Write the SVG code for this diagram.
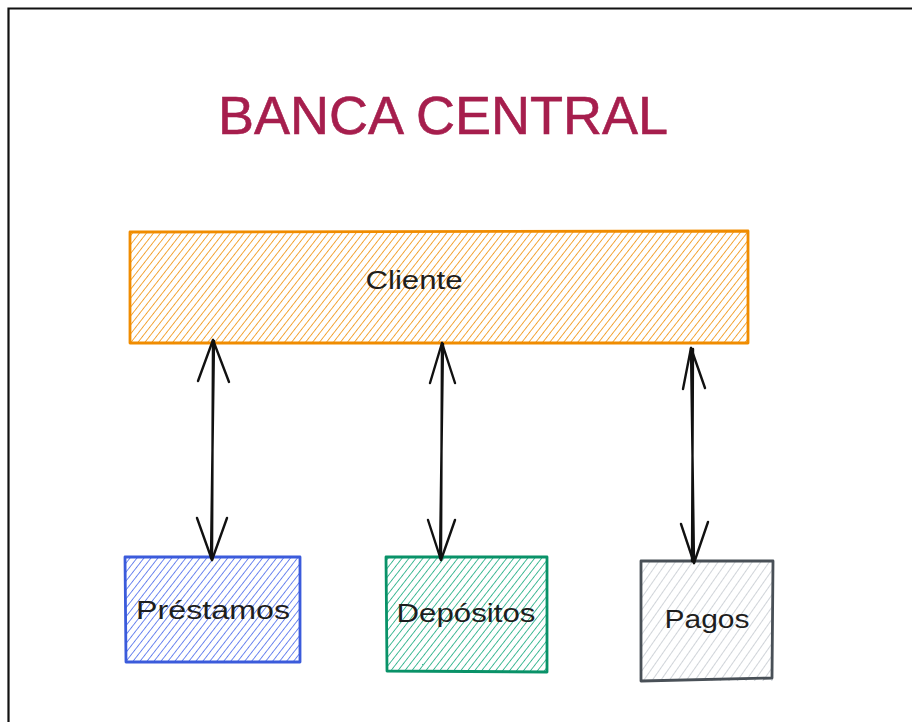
<svg xmlns="http://www.w3.org/2000/svg" width="912" height="722" viewBox="0 0 912 722">
  <defs>
    <!-- diagonal hachure fills -->
    <pattern id="hatch-orange" width="5.5" height="5.5" patternUnits="userSpaceOnUse" patternTransform="rotate(38)">
      <line x1="0" y1="0" x2="0" y2="5.5" stroke="#f08c00" stroke-width="1.5"/>
    </pattern>
    <pattern id="hatch-blue" width="5.5" height="5.5" patternUnits="userSpaceOnUse" patternTransform="rotate(38)">
      <line x1="0" y1="0" x2="0" y2="5.5" stroke="#4263eb" stroke-width="1.5"/>
    </pattern>
    <pattern id="hatch-green" width="5.5" height="5.5" patternUnits="userSpaceOnUse" patternTransform="rotate(38)">
      <line x1="0" y1="0" x2="0" y2="5.5" stroke="#0ca678" stroke-width="1.5"/>
    </pattern>
    <pattern id="hatch-gray" width="7" height="7" patternUnits="userSpaceOnUse" patternTransform="rotate(35)">
      <line x1="0" y1="0" x2="0" y2="7" stroke="#bcc2c8" stroke-width="1.4"/>
    </pattern>
  </defs>
  <style>
    .label { font-family: "Liberation Sans", "DejaVu Sans", sans-serif; font-size: 25px; fill: #1e1e1e; text-anchor: middle; }
    .title { font-family: "Liberation Sans", "DejaVu Sans", sans-serif; font-size: 54px; fill: #a61e4d; text-anchor: middle; stroke: #a61e4d; stroke-width: 0.6; }
    .edge { fill: none; stroke: #111111; stroke-width: 2.4; stroke-linecap: round; stroke-linejoin: round; }
    .box { stroke-width: 2.8; stroke-linejoin: round; }
  </style>

  <rect width="912" height="722" fill="#ffffff"/>

  <!-- frame -->
  <path d="M8.5,722 V8.5 H912" fill="none" stroke="#111111" stroke-width="2.2"/>

  <!-- title -->
  <text class="title" x="443" y="134" textLength="450" lengthAdjust="spacingAndGlyphs">BANCA CENTRAL</text>

  <g id="cliente">
    <rect x="130" y="232" width="618" height="111" fill="url(#hatch-orange)"/>
    <path class="box" d="M130,232 L748,231 L748,343 L130,343 Z" fill="none" stroke="#f08c00"/>
    <text class="label" x="414" y="289" textLength="97" lengthAdjust="spacingAndGlyphs">Cliente</text>
  </g>

  <g id="prestamos">
    <rect x="125" y="557" width="175" height="105" fill="url(#hatch-blue)"/>
    <path class="box" d="M125,557 L300,557 L300,662 L126,662 Z" fill="none" stroke="#3b5bdb"/>
    <text class="label" x="213" y="619" textLength="154" lengthAdjust="spacingAndGlyphs">Préstamos</text>
  </g>

  <g id="depositos">
    <rect x="386" y="557" width="161" height="115" fill="url(#hatch-green)"/>
    <path class="box" d="M386,557 L547,557 L547,672 L387,671 Z" fill="none" stroke="#099268"/>
    <text class="label" x="466" y="622" textLength="139" lengthAdjust="spacingAndGlyphs">Depósitos</text>
  </g>

  <g id="pagos">
    <rect x="641" y="561" width="132" height="120" fill="url(#hatch-gray)"/>
    <path class="box" d="M641,561 L773,561 L772,678 L641,681 Z" fill="none" stroke="#495057"/>
    <text class="label" x="707" y="628" textLength="85" lengthAdjust="spacingAndGlyphs">Pagos</text>
  </g>

  <g id="connectors">
    <!-- Cliente <-> Préstamos -->
    <path class="edge" d="M213,340 L212,560 M214,341 L211,558"/>
    <path class="edge" d="M198,381 L213,340 L229,382"/>
    <path class="edge" d="M197,518 L212,560 L227,518"/>
    <!-- Cliente <-> Depósitos -->
    <path class="edge" d="M442,343 L441,560 M443,344 L440,558"/>
    <path class="edge" d="M430,383 L442,343 L455,383"/>
    <path class="edge" d="M428,520 L441,560 L455,520"/>
    <!-- Cliente <-> Pagos -->
    <path class="edge" d="M691,348 L694,563 M693,349 L692,561"/>
    <path class="edge" d="M683,389 L691,348 L705,388"/>
    <path class="edge" d="M681,524 L694,563 L708,522"/>
  </g>
</svg>
